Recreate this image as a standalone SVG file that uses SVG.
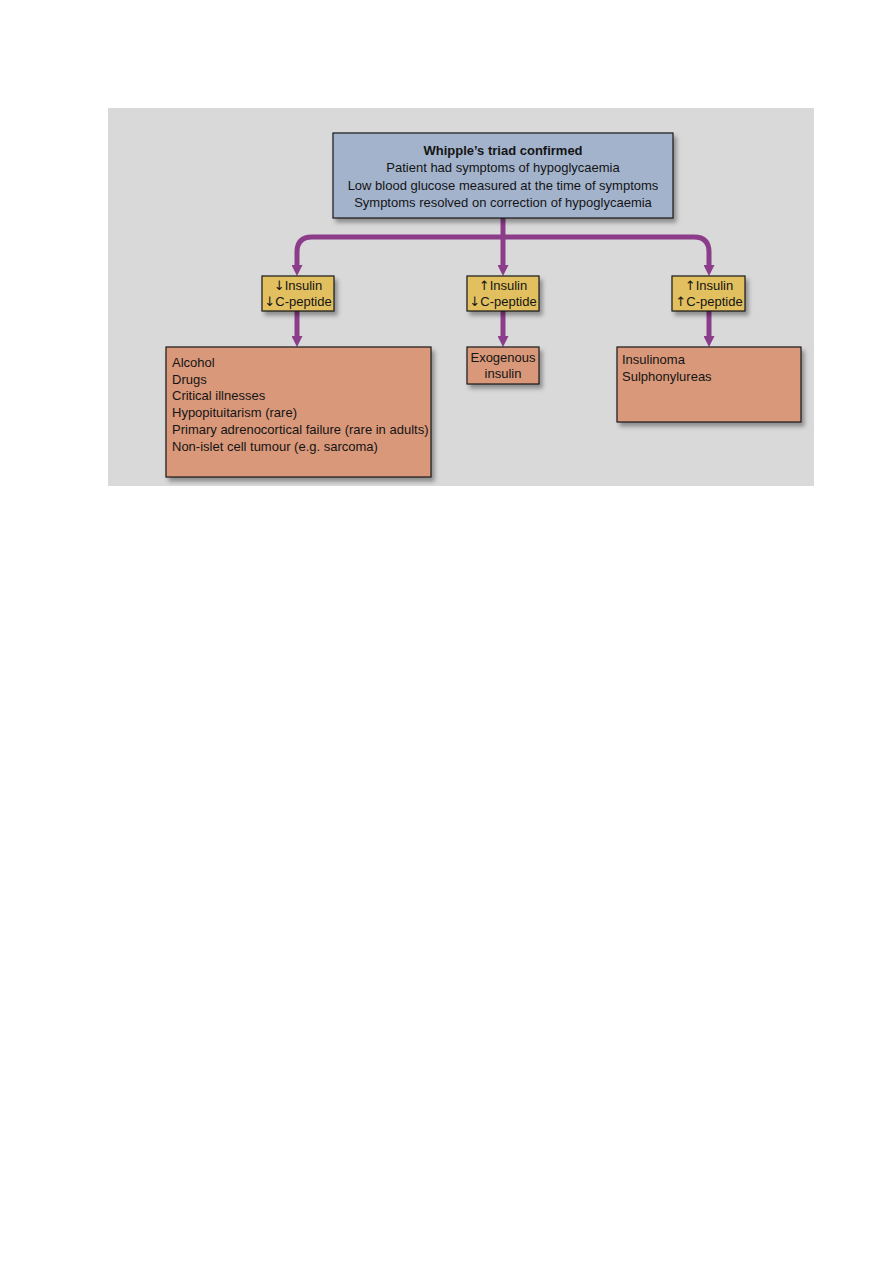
<svg xmlns="http://www.w3.org/2000/svg" width="893" height="1263" viewBox="0 0 893 1263">
<defs>
<filter id="sh" x="-10%" y="-10%" width="130%" height="140%">
<feDropShadow dx="3" dy="4" stdDeviation="2" flood-color="#000" flood-opacity="0.35"/>
</filter>
<marker id="ah" viewBox="0 0 10 10" refX="0" refY="5" markerWidth="2.2" markerHeight="2.2" orient="auto" markerUnits="strokeWidth">
<path d="M0,0 L10,5 L0,10 Z" fill="#8c3d8a"/>
</marker>
<style>
.t{font-family:"Liberation Sans",Arial,sans-serif;font-size:13px;fill:#141414}
.b{font-weight:bold}
.c{text-anchor:middle}
.ar{font-family:"DejaVu Sans",sans-serif;font-size:13px}
.box{stroke:#1a1a1a;stroke-width:1.2}
.blue{fill:#a3b3cc}
.yel{fill:#e2c060}
.pink{fill:#d9987a}
.ln{fill:none;stroke:#8c3d8a;stroke-width:5}
</style>
</defs>
<rect width="893" height="1263" fill="#ffffff"/>
<rect x="108" y="108" width="706" height="378" fill="#d9d9d9"/>

<g id="connectors">
<path class="ln" d="M503,218 V265" marker-end="url(#ah)"/>
<path class="ln" d="M503,237 H312 Q297,237 297,252 V265" marker-end="url(#ah)"/>
<path class="ln" d="M503,237 H694 Q709,237 709,252 V265" marker-end="url(#ah)"/>
<path class="ln" d="M297,311 V336" marker-end="url(#ah)"/>
<path class="ln" d="M503,311 V336" marker-end="url(#ah)"/>
<path class="ln" d="M709,311 V336" marker-end="url(#ah)"/>
</g>

<g id="whipple">
<rect class="box blue" x="333" y="133" width="340" height="85" filter="url(#sh)"/>
<text class="t b c" x="503" y="155">Whipple’s triad confirmed</text>
<text class="t c" x="503" y="172">Patient had symptoms of hypoglycaemia</text>
<text class="t c" x="503" y="190">Low blood glucose measured at the time of symptoms</text>
<text class="t c" x="503" y="207">Symptoms resolved on correction of hypoglycaemia</text>
</g>

<g id="low-low">
<rect class="box yel" x="262" y="276" width="72" height="35" filter="url(#sh)"/>
<text class="t c" x="298" y="290"><tspan class="ar">↓</tspan>Insulin</text>
<text class="t c" x="298" y="306"><tspan class="ar">↓</tspan>C-peptide</text>
</g>

<g id="high-low">
<rect class="box yel" x="467" y="276" width="72" height="35" filter="url(#sh)"/>
<text class="t c" x="503" y="290"><tspan class="ar">↑</tspan>Insulin</text>
<text class="t c" x="503" y="306"><tspan class="ar">↓</tspan>C-peptide</text>
</g>

<g id="high-high">
<rect class="box yel" x="672" y="276" width="73" height="35" filter="url(#sh)"/>
<text class="t c" x="709" y="290"><tspan class="ar">↑</tspan>Insulin</text>
<text class="t c" x="709" y="306"><tspan class="ar">↑</tspan>C-peptide</text>
</g>

<g id="causes-low">
<rect class="box pink" x="166" y="347" width="265" height="130" filter="url(#sh)"/>
<text class="t" x="172" y="367">Alcohol</text>
<text class="t" x="172" y="384">Drugs</text>
<text class="t" x="172" y="400">Critical illnesses</text>
<text class="t" x="172" y="417">Hypopituitarism (rare)</text>
<text class="t" x="172" y="434">Primary adrenocortical failure (rare in adults)</text>
<text class="t" x="172" y="451">Non-islet cell tumour (e.g. sarcoma)</text>
</g>

<g id="exogenous">
<rect class="box pink" x="467" y="347" width="72" height="37" filter="url(#sh)"/>
<text class="t c" x="503" y="362">Exogenous</text>
<text class="t c" x="503" y="378">insulin</text>
</g>

<g id="causes-high">
<rect class="box pink" x="617" y="347" width="184" height="75" filter="url(#sh)"/>
<text class="t" x="622" y="364">Insulinoma</text>
<text class="t" x="622" y="381">Sulphonylureas</text>
</g>
</svg>
